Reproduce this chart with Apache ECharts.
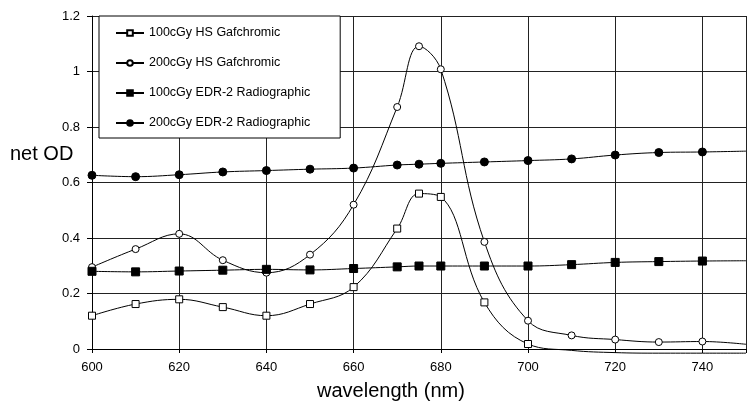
<!DOCTYPE html>
<html>
<head>
<meta charset="utf-8">
<script src="https://cdn.jsdelivr.net/npm/echarts@6/dist/echarts.min.js"></script>
<style>html,body{margin:0;padding:0;background:#fff;}#c{width:749px;height:406px;}</style>
</head>
<body>
<div id="c"></div>
<script>
const seriesNames = ['100cGy HS Gafchromic', '200cGy HS Gafchromic', '100cGy EDR-2 Radiographic', '200cGy EDR-2 Radiographic'];
const wavelengths = [600, 610, 620, 630, 640, 650, 660, 670, 675, 680, 690, 700, 710, 720, 730, 740, 750];
const hs100 = [0.120, 0.162, 0.179, 0.151, 0.120, 0.162, 0.223, 0.434, 0.560, 0.548, 0.168, 0.018, -0.005, -0.013, -0.015, -0.015, -0.015];
const hs200 = [0.295, 0.360, 0.415, 0.320, 0.275, 0.340, 0.520, 0.872, 1.091, 1.008, 0.386, 0.102, 0.049, 0.034, 0.025, 0.027, 0.017];
const edr100 = [0.280, 0.278, 0.281, 0.284, 0.287, 0.285, 0.290, 0.296, 0.299, 0.299, 0.299, 0.299, 0.304, 0.312, 0.315, 0.317, 0.318];
const edr200 = [0.626, 0.621, 0.628, 0.638, 0.643, 0.648, 0.652, 0.663, 0.666, 0.669, 0.674, 0.679, 0.685, 0.699, 0.708, 0.710, 0.713];
const xTicks = [600, 620, 640, 660, 680, 700, 720, 740];
const yTicks = [0, 0.2, 0.4, 0.6, 0.8, 1.0, 1.2];

function build(values) {
  return wavelengths.map((w, i) => {
    const item = { value: [w, values[i]] };
    if (values[i] < 0 || w >= 750) item.symbol = 'none';
    return item;
  });
}

const styles = [
  { symbol: 'rect', size: 7, fill: '#fff' },
  { symbol: 'circle', size: 7, fill: '#fff' },
  { symbol: 'rect', size: 8, fill: '#000' },
  { symbol: 'circle', size: 8, fill: '#000' }
];
const datasets = [hs100, hs200, edr100, edr200];

const chart = echarts.init(document.getElementById('c'));
chart.setOption({
  animation: false,
  backgroundColor: '#fff',
  textStyle: { fontFamily: 'Liberation Sans, Arial, sans-serif', color: '#000' },
  grid: { left: 92, top: 16, width: 662, height: 333, containLabel: false },
  xAxis: {
    type: 'value', min: 600, max: 750, interval: 20,
    axisLine: { show: true, lineStyle: { color: '#000', width: 1 } },
    axisTick: { show: true, length: 4, lineStyle: { color: '#000' } },
    axisLabel: { fontSize: 13, color: '#000', margin: 12,
      formatter: v => xTicks.includes(v) ? String(v) : '' },
    splitLine: { show: true, lineStyle: { color: '#222', width: 1 } }
  },
  yAxis: {
    type: 'value', min: 0, max: 1.2, interval: 0.2,
    axisLine: { show: true, lineStyle: { color: '#000', width: 1 } },
    axisTick: { show: true, length: 5, lineStyle: { color: '#000' } },
    axisLabel: { fontSize: 13, color: '#000', margin: 12,
      formatter: v => { const t = yTicks.find(y => Math.abs(y - v) < 1e-6); return t === undefined ? '' : String(+t.toFixed(1)); } },
    splitLine: { show: true, lineStyle: { color: '#222', width: 1 } }
  },
  legend: {
    orient: 'vertical', left: 99, top: 16,
    padding: [10, 30, 8, 16],
    itemWidth: 28, itemHeight: 7, itemGap: 16,
    backgroundColor: '#fff', borderColor: '#000', borderWidth: 1,
    textStyle: { fontSize: 12.5, color: '#000', lineHeight: 14 },
    data: seriesNames
  },
  graphic: [
    { type: 'text', left: 10, top: 144, style: { text: 'net OD', fontSize: 20, fill: '#000', fontFamily: 'Liberation Sans, Arial, sans-serif' } },
    { type: 'text', left: 317, top: 381, style: { text: 'wavelength (nm)', fontSize: 20, fill: '#000', fontFamily: 'Liberation Sans, Arial, sans-serif' } }
  ],
  series: datasets.map((d, i) => ({
    name: seriesNames[i],
    type: 'line',
    data: build(d),
    smooth: 0.4,
    clip: false,
    symbol: styles[i].symbol,
    symbolSize: styles[i].size,
    showAllSymbol: true,
    lineStyle: { color: '#000', width: 1 },
    itemStyle: { color: styles[i].fill, borderColor: '#000', borderWidth: 1 },
    emphasis: { disabled: true }
  }))
});
</script>
</body>
</html>
